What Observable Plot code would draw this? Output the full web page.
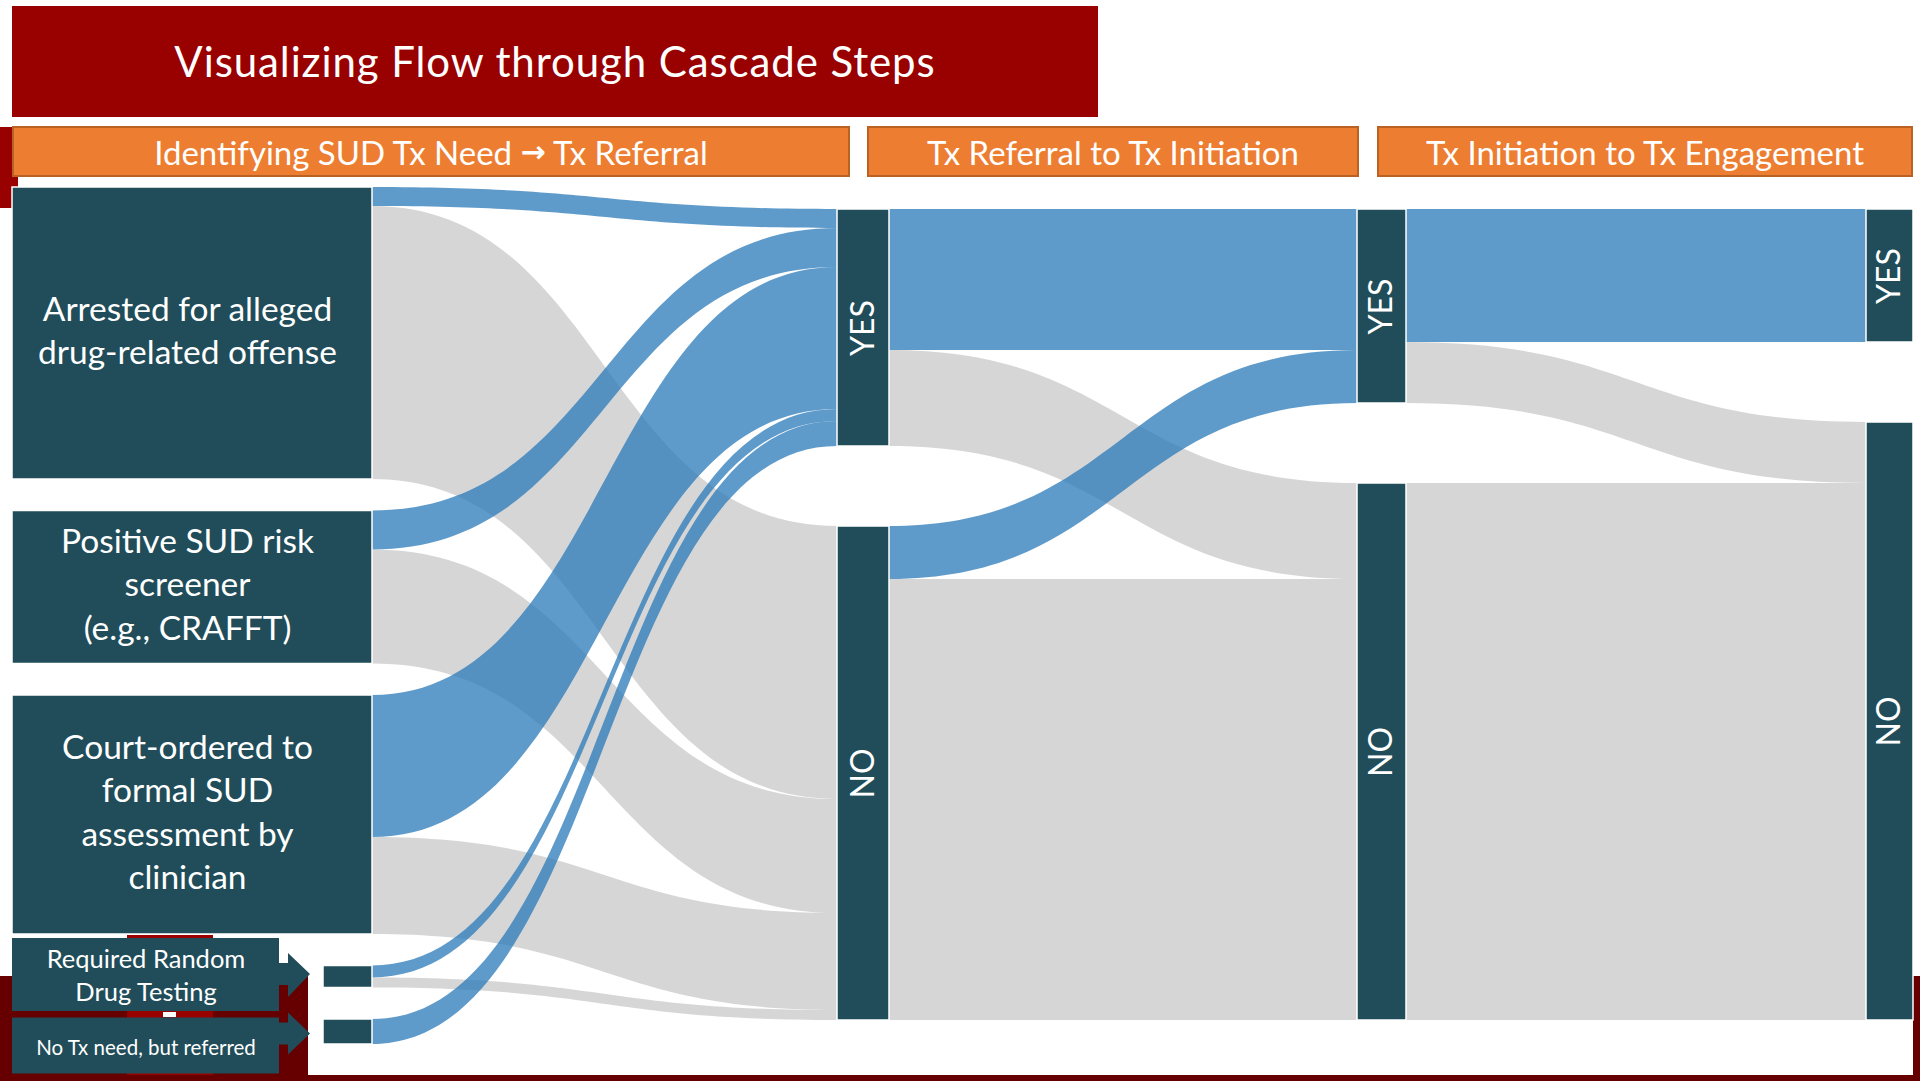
<!DOCTYPE html>
<html>
<head>
<meta charset="utf-8">
<script src="https://cdn.jsdelivr.net/npm/d3@7"></script>
<script src="https://cdn.jsdelivr.net/npm/@observablehq/plot@0.6"></script>
<style>
  html, body { margin: 0; padding: 0; background: #ffffff; }
  body { width: 1920px; height: 1081px; position: relative; overflow: hidden; font-family: Lato, "Open Sans", sans-serif; }
  .deco { position: absolute; }
  #title { position: absolute; left: 12px; top: 6px; width: 1086px; height: 111px; background: #990000; color: #fff;
           font-size: 42px; letter-spacing: 0.9px; display: flex; align-items: center; justify-content: center; box-sizing: border-box; padding-bottom: 2px; }
  .hdr { position: absolute; top: 126px; height: 51px; box-sizing: border-box; background: #ED7D31; border: 2px solid #BA6124;
         color: #fff; font-size: 33px; display: flex; align-items: center; justify-content: center; white-space: pre; }
  .arrow { font-family: "DejaVu Sans", sans-serif; font-weight: bold; font-size: 30px; }
  #chart { position: absolute; left: 0; top: 180px; z-index: 2; }
</style>
</head>
<body>
<div class="deco" style="left:0;top:127px;width:18px;height:81px;background:#990000"></div>
<div class="deco" style="left:0;top:976px;width:308px;height:105px;background:#660000"></div>
<div class="deco" style="left:127px;top:935px;width:86px;height:146px;background:#990000"></div>
<div class="deco" style="left:163px;top:1012px;width:13px;height:5px;background:#ffffff;z-index:3"></div>
<div class="deco" style="left:1913px;top:976px;width:7px;height:105px;background:#660000"></div>
<div class="deco" style="left:0;top:1075px;width:1920px;height:6px;background:#660000"></div>

<div id="title">Visualizing Flow through Cascade Steps</div>
<div class="hdr" style="left:12px;width:838px">Identifying SUD Tx Need <span class="arrow">→</span> Tx Referral</div>
<div class="hdr" style="left:867px;width:492px">Tx Referral to Tx Initiation</div>
<div class="hdr" style="left:1377px;width:536px">Tx Initiation to Tx Engagement</div>
<div id="chart"></div>

<script>
// ---------------- DATA (flow sizes) ----------------
const sources = [
  "Arrested for alleged\ndrug-related offense",
  "Positive SUD risk\nscreener\n(e.g., CRAFFT)",
  "Court-ordered to\nformal SUD\nassessment by\nclinician",
  "Required Random\nDrug Testing",
  "No Tx need, but referred"
];
const outcomes = ["YES", "NO"];
const stages = ["Tx Referral", "Tx Initiation", "Tx Engagement"];

// Step 1: source -> Tx Referral (YES / NO)
const sourceToReferralYes = [19, 39, 142, 12, 25];
const sourceToReferralNo  = [273, 114, 97, 10, 0];
// Step 2: Tx Referral (YES, NO) -> Tx Initiation
const referralToInitiationYes = [141, 53];
const referralToInitiationNo  = [96, 441];
// Step 3: Tx Initiation (YES, NO) -> Tx Engagement
const initiationToEngagementYes = [133, 0];
const initiationToEngagementNo  = [61, 537];

// ---------------- LAYOUT (styling constants) ----------------
const colTop = [187, 209, 209, 209];
const colPad = [31.5, 80, 80, 80];
const colX = [[12, 372], [837, 889], [1357, 1406], [1866, 1913]];
const smallSourceX = [323, 372];
const teal = "#204D59";

function stack(heights, top, pad) {
  let y = top;
  return heights.map(h => { const n = {y0: y, y1: y + h, out: y, inn: y}; y += h + pad; return n; });
}

const col0 = stack(sources.map((s, i) => sourceToReferralYes[i] + sourceToReferralNo[i]), colTop[0], colPad[0]);
const col1 = stack([d3.sum(sourceToReferralYes), d3.sum(sourceToReferralNo)], colTop[1], colPad[1]);
const col2 = stack([d3.sum(referralToInitiationYes), d3.sum(referralToInitiationNo)], colTop[2], colPad[2]);
const col3 = stack([d3.sum(initiationToEngagementYes), d3.sum(initiationToEngagementNo)], colTop[3], colPad[3]);
const cols = [col0, col1, col2, col3];

col0.forEach((n, i) => {
  n.label = sources[i];
  n.x0 = i >= 3 ? smallSourceX[0] : colX[0][0];
  n.x1 = colX[0][1];
  n.col = 0; n.idx = i;
});
[col1, col2, col3].forEach((col, c) => col.forEach((n, j) => {
  n.label = outcomes[j]; n.x0 = colX[c + 1][0]; n.x1 = colX[c + 1][1]; n.col = c + 1; n.idx = j;
}));

const stepMatrices = [
  sources.map((s, i) => [sourceToReferralYes[i], sourceToReferralNo[i]]),
  outcomes.map((o, i) => [referralToInitiationYes[i], referralToInitiationNo[i]]),
  outcomes.map((o, i) => [initiationToEngagementYes[i], initiationToEngagementNo[i]])
];

const links = [];
stepMatrices.forEach((m, c) => {
  m.forEach((row, i) => row.forEach((v, j) => {
    if (!v) return;
    const s = cols[c][i], t = cols[c + 1][j];
    links.push({id: links.length, kind: j === 0 ? "yes" : "no",
      x0: s.x1, x1: t.x0, sy0: s.out, sy1: s.out + v, ty0: t.inn, ty1: t.inn + v});
    s.out += v; t.inn += v;
  }));
});

const linkPts = links.flatMap(l => [
  {id: l.id, kind: l.kind, x: l.x0, y1: l.sy0, y2: l.sy1},
  {id: l.id, kind: l.kind, x: l.x1, y1: l.ty0, y2: l.ty1}
]);

const allNodes = cols.flat();
const bigSources = col0.filter(n => n.idx < 3);
const outcomeNodes = [col1, col2, col3].flat();

// callout arrows for the two small sources (offsets relative to node centre)
const callouts = [
  {node: col0[3], box: [-38.5, 34.5], shaft: [-13.5, 8.5], head: [-23.5, 20.5], tip: -2.5},
  {node: col0[4], box: [-14, 42], shaft: [-9, 13], head: [-19, 23], tip: 2}
];
const calloutPts = callouts.flatMap((c, k) => {
  const m = (c.node.y0 + c.node.y1) / 2;
  return [
    {k, x: 12, y1: m + c.box[0], y2: m + c.box[1]},
    {k, x: 279, y1: m + c.box[0], y2: m + c.box[1]},
    {k, x: 279, y1: m + c.shaft[0], y2: m + c.shaft[1]},
    {k, x: 288, y1: m + c.shaft[0], y2: m + c.shaft[1]},
    {k, x: 288, y1: m + c.head[0], y2: m + c.head[1]},
    {k, x: 310, y1: m + c.tip, y2: m + c.tip}
  ];
});
const calloutLabels = callouts.map((c, k) => ({
  label: c.node.label, x: 145.5, y: (c.node.y0 + c.node.y1) / 2 + (c.box[0] + c.box[1]) / 2 - (k === 0 ? 1.5 : 0),
  size: k === 0 ? 25.5 : 20.5
}));

const chart = Plot.plot({
  width: 1920,
  height: 901,
  margin: 0,
  x: {type: "linear", domain: [0, 1920], range: [0, 1920], axis: null},
  y: {type: "linear", domain: [180, 1081], range: [0, 901], axis: null},
  style: {background: "transparent", overflow: "visible"},
  marks: [
    Plot.area(linkPts.filter(d => d.kind === "no"), {x1: "x", y1: "y1", y2: "y2", z: "id", curve: "bump-x", fill: "#C8C8C8", fillOpacity: 0.75}),
    Plot.area(linkPts.filter(d => d.kind === "yes"), {x1: "x", y1: "y1", y2: "y2", z: "id", curve: "bump-x", fill: "#2A7AB8", fillOpacity: 0.75}),
    Plot.rect(allNodes, {x1: "x0", x2: "x1", y1: "y0", y2: "y1", fill: teal, stroke: "white", strokeWidth: 1.5}),
    Plot.area(calloutPts, {x1: "x", y1: "y1", y2: "y2", z: "k", fill: teal, curve: "linear"}),
    Plot.text(bigSources, {x: d => (d.x0 + d.x1) / 2 - 5, y: d => (d.y0 + d.y1) / 2, dy: -5, text: "label",
      fill: "white", fontSize: 33.5, lineHeight: 1.3, fontFamily: "Lato", textAnchor: "middle"}),
    Plot.text(calloutLabels, {x: "x", y: "y", text: "label", fill: "white", fontSize: d => d.size,
      lineHeight: 1.3, fontFamily: "Lato", textAnchor: "middle"}),
    Plot.text(outcomeNodes, {x: d => (d.x0 + d.x1) / 2, y: d => (d.y0 + d.y1) / 2, text: "label",
      rotate: -90, fill: "white", fontSize: 32, fontFamily: "Lato", textAnchor: "middle"})
  ]
});
document.getElementById("chart").appendChild(chart);
</script>
</body>
</html>
